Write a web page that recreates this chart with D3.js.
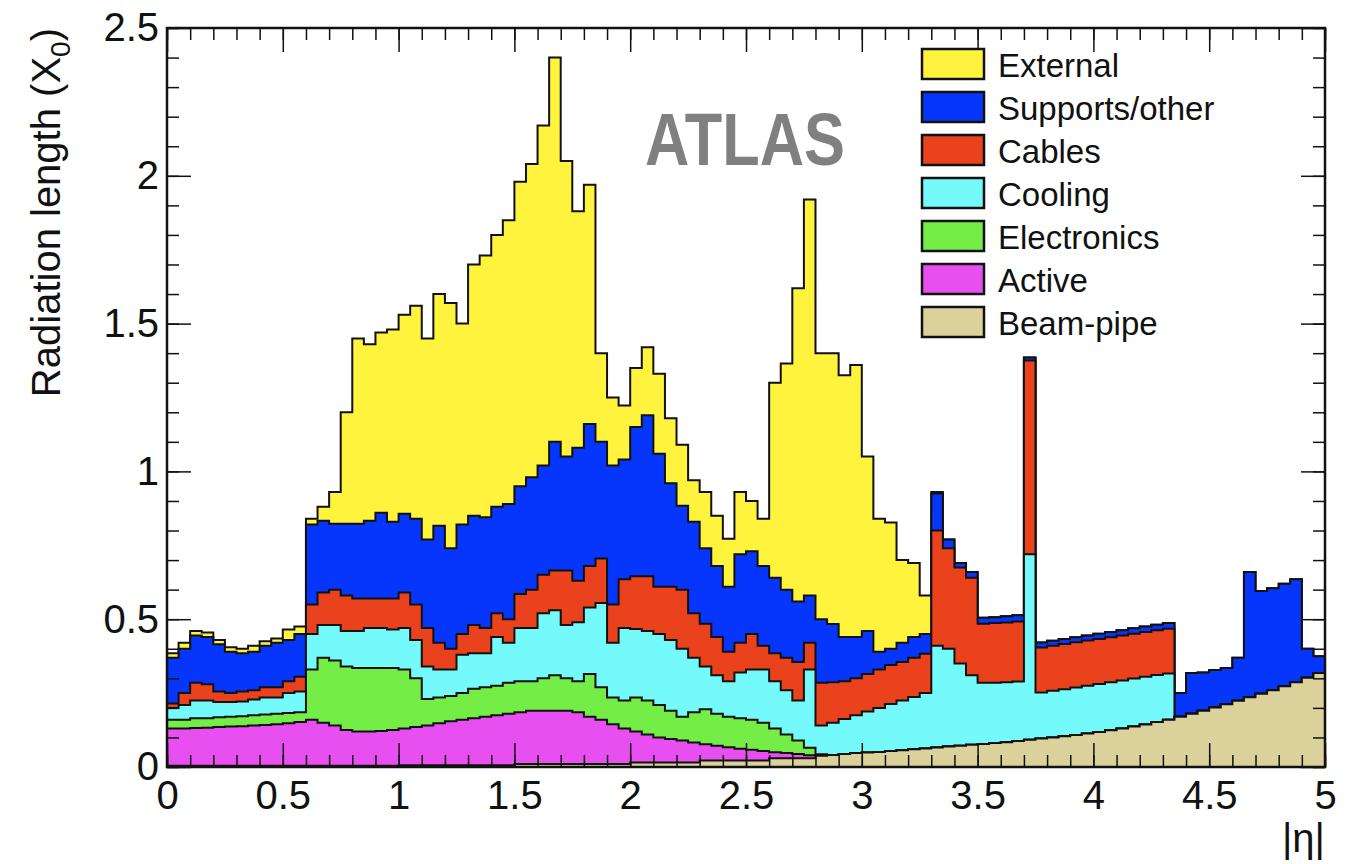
<!DOCTYPE html>
<html>
<head>
<meta charset="utf-8">
<script src="https://cdn.jsdelivr.net/npm/d3@7/dist/d3.min.js"></script>
<style>
    body { margin: 0; background: #fff; }
    text { font-family: "Liberation Sans", Arial, sans-serif; }
</style>
</head>
<body>
<div id="chart"></div>
<script>
// |eta| bins, 0.05 wide, from 0 to 5
const binWidth = 0.05
const etaLow = d3.range(100).map(i => +(i * binWidth).toFixed(2))

const layerNames = ['Beam-pipe', 'Active', 'Electronics', 'Cooling', 'Cables', 'Supports/other', 'External']
const layerColors = ['#dbd29b', '#e84ff0', '#74ee46', '#74fafa', '#e9421d', '#0636fb', '#fff33e']

// radiation length of each layer per bin (X0)
const beamPipe = [
    .004, .004, .004, .004, .004, .004, .004, .004, .004, .004,
    .004, .004, .004, .004, .004, .004, .004, .004, .004, .004,
    .006, .006, .006, .006, .006, .006, .006, .006, .006, .006,
    .01, .01, .01, .01, .01, .01, .01, .01, .01, .01,
    .015, .015, .015, .015, .015, .015, .022, .022, .022, .022,
    .022, .022, .03, .03, .03, .03, .038, .041, .044, .047,
    .049, .051, .054, .057, .06, .063, .066, .069, .072, .075,
    .078, .081, .084, .088, .092, .096, .1, .104, .108, .113,
    .118, .124, .13, .137, .144, .152, .16, .17, .18, .19,
    .201, .212, .224, .236, .248, .26, .273, .287, .302, .318]

const active = [
    .126, .126, .128, .129, .131, .133, .134, .136, .138, .141,
    .144, .148, .156, .146, .136, .121, .116, .116, .118, .121,
    .124, .129, .134, .142, .149, .154, .159, .164, .169, .174,
    .175, .18, .18, .18, .18, .175, .16, .15, .135, .12,
    .105, .095, .085, .08, .075, .068, .055, .05, .045, .04,
    .036, .032, .02, .017, .014, .01, 0, 0, 0, 0,
    0, 0, 0, 0, 0, 0, 0, 0, 0, 0,
    0, 0, 0, 0, 0, 0, 0, 0, 0, 0,
    0, 0, 0, 0, 0, 0, 0, 0, 0, 0,
    0, 0, 0, 0, 0, 0, 0, 0, 0, 0]

const electronics = [
    .03, .03, .033, .032, .033, .033, .034, .035, .036, .035,
    .035, .033, .17, .22, .22, .215, .215, .215, .213, .21,
    .2, .165, .09, .087, .085, .09, .1, .1, .1, .105,
    .105, .1, .11, .12, .11, .105, .145, .11, .09, .095,
    .115, .115, .11, .095, .08, .102, .118, .108, .103, .103,
    .102, .096, .08, .063, .046, .025, .005, 0, 0, 0,
    0, 0, 0, 0, 0, 0, 0, 0, 0, 0,
    0, 0, 0, 0, 0, 0, 0, 0, 0, 0,
    0, 0, 0, 0, 0, 0, 0, 0, 0, 0,
    0, 0, 0, 0, 0, 0, 0, 0, 0, 0]

const cooling = [
    .04, .05, .06, .06, .052, .05, .05, .053, .057, .055,
    .067, .07, .12, .11, .12, .12, .125, .135, .135, .13,
    .14, .13, .11, .095, .09, .13, .12, .115, .165, .135,
    .18, .18, .22, .22, .18, .2, .225, .285, .185, .245,
    .232, .235, .24, .24, .23, .185, .145, .13, .12, .155,
    .17, .18, .16, .15, .135, .265, .097, .109, .118, .128,
    .139, .149, .159, .168, .177, .187, .344, .331, .278, .235,
    .207, .204, .203, .201, .628, .156, .158, .159, .161, .162,
    .163, .163, .163, .162, .161, .159, .156, 0, 0, 0,
    0, 0, 0, 0, 0, 0, 0, 0, 0, 0]

const cables = [
    .015, .04, .06, .055, .035, .03, .033, .032, .035, .035,
    .04, .05, .1, .11, .12, .12, .11, .1, .1, .105,
    .12, .12, .13, .09, .07, .07, .095, .085, .08, .08,
    .115, .13, .13, .135, .185, .14, .14, .15, .13, .165,
    .178, .185, .16, .18, .2, .15, .145, .13, .1, .1,
    .12, .08, .095, .11, .13, .09, .145, .137, .128, .125,
    .127, .13, .132, .13, .133, .133, .39, .34, .325, .33,
    .2, .202, .202, .203, .655, .152, .152, .153, .153, .153,
    .152, .152, .152, .152, .152, .152, .152, 0, 0, 0,
    0, 0, 0, 0, 0, 0, 0, 0, 0, 0]

const supports = [
    .155, .15, .16, .16, .16, .14, .13, .13, .14, .15,
    .14, .145, .27, .243, .223, .243, .253, .263, .29, .26,
    .267, .29, .3, .396, .34, .37, .37, .375, .36, .39,
    .365, .38, .37, .435, .385, .45, .48, .395, .47, .405,
    .505, .545, .45, .35, .284, .31, .255, .24, .22, .3,
    .28, .27, .255, .23, .205, .16, .215, .197, .15, .14,
    .145, .06, .055, .065, .07, .067, .125, .03, .015, .02,
    .02, .02, .021, .021, .01, .017, .017, .017, .017, .017,
    .018, .018, .018, .018, .018, .018, .019, .08, .138, .13,
    .127, .123, .146, .424, .347, .345, .347, .348, .098, .057]

const external = [
    .015, .02, .015, .015, .015, .015, .015, .02, .015, .015,
    .035, .025, .02, .047, .107, .377, .627, .597, .61, .65,
    .673, .72, .68, .784, .83, .68, .85, .885, .92, .96,
    1.03, 1.06, 1.15, 1.3, 1.0, .8, .81, .3, .23, .183,
    .2, .23, .27, .22, .206, .14, .19, .17, .162, .21,
    .17, .16, .66, .765, 1.06, 1.34, .9, .916, .885, .92,
    .59, .45, .427, .28, .25, .13, .005, 0, 0, 0,
    0, 0, 0, 0, 0, 0, 0, 0, 0, 0,
    0, 0, 0, 0, 0, 0, 0, 0, 0, 0,
    0, 0, 0, 0, 0, 0, 0, 0, 0, 0]

const layerValues = [beamPipe, active, electronics, cooling, cables, supports, external]

const xTicks = [0, 0.5, 1, 1.5, 2, 2.5, 3, 3.5, 4, 4.5, 5]
const yTicks = [0, 0.5, 1, 1.5, 2, 2.5]

const width = 1358
const height = 864
const margin = ({ top: 28, right: 33, bottom: 97, left: 167 })

const table = etaLow.map((eta, i) => {
    const row = { eta: eta }
    layerNames.forEach((name, k) => row[name] = layerValues[k][i])
    return row
})

const series = d3.stack().keys(layerNames)(table)

const x = d3.scaleLinear()
    .domain([0, 5])
    .range([margin.left, width - margin.right])

const y = d3.scaleLinear()
    .domain([0, 2.5])
    .range([height - margin.bottom, margin.top])

const color = d3.scaleOrdinal(layerNames, layerColors)

const svg = d3.select('#chart')
    .append('svg')
    .attr('width', width)
    .attr('height', height)

// ROOT style stack: each layer filled from 0 up to its cumulative top, biggest first
const area = d3.area()
    .curve(d3.curveStepAfter)
    .x(d => x(d.eta))
    .y0(y(0))
    .y1(d => y(d.top))

svg.append('g')
    .selectAll('path')
    .data(series.slice().reverse())
    .join('path')
    .attr('fill', s => color(s.key))
    .attr('stroke', '#111')
    .attr('stroke-width', 2)
    .attr('stroke-linejoin', 'miter')
    .attr('d', s => {
        const pts = s.map((d, i) => ({ eta: etaLow[i], top: d[1] }))
        pts.push({ eta: etaLow[etaLow.length - 1] + binWidth, top: s[s.length - 1][1] })
        return area(pts)
    })

const fmt = d => String(+d.toFixed(1))

// axes, ticks pointing inwards on all four sides
svg.append('g')
    .attr('transform', `translate(${margin.left},0)`)
    .call(d3.axisLeft(y).tickValues(y.ticks(25)).tickSize(-12).tickFormat(''))
    .call(g => g.select('.domain').remove())
svg.append('g')
    .attr('transform', `translate(${margin.left},0)`)
    .call(d3.axisLeft(y).tickValues(yTicks).tickSize(-24).tickPadding(8).tickFormat(fmt))
    .call(g => g.select('.domain').remove())
    .call(g => g.selectAll('text').attr('font-size', 40).attr('fill', '#111')
        .attr('font-family', '"Liberation Sans", Arial, sans-serif'))

svg.append('g')
    .attr('transform', `translate(${width - margin.right},0)`)
    .call(d3.axisRight(y).tickValues(y.ticks(25)).tickSize(-12).tickFormat(''))
    .call(g => g.select('.domain').remove())
svg.append('g')
    .attr('transform', `translate(${width - margin.right},0)`)
    .call(d3.axisRight(y).tickValues(yTicks).tickSize(-24).tickFormat(''))
    .call(g => g.select('.domain').remove())

svg.append('g')
    .attr('transform', `translate(0,${height - margin.bottom})`)
    .call(d3.axisBottom(x).tickValues(x.ticks(50)).tickSize(-12).tickFormat(''))
    .call(g => g.select('.domain').remove())
svg.append('g')
    .attr('transform', `translate(0,${height - margin.bottom})`)
    .call(d3.axisBottom(x).tickValues(xTicks).tickSize(-24).tickPadding(14).tickFormat(fmt))
    .call(g => g.select('.domain').remove())
    .call(g => g.selectAll('text').attr('font-size', 40).attr('fill', '#111')
        .attr('font-family', '"Liberation Sans", Arial, sans-serif'))

svg.append('g')
    .attr('transform', `translate(0,${margin.top})`)
    .call(d3.axisTop(x).tickValues(x.ticks(50)).tickSize(-12).tickFormat(''))
    .call(g => g.select('.domain').remove())
svg.append('g')
    .attr('transform', `translate(0,${margin.top})`)
    .call(d3.axisTop(x).tickValues(xTicks).tickSize(-24).tickFormat(''))
    .call(g => g.select('.domain').remove())

svg.selectAll('.tick line').attr('stroke', '#111').attr('stroke-width', 1.5)

// frame
svg.append('rect')
    .attr('x', margin.left)
    .attr('y', margin.top)
    .attr('width', width - margin.left - margin.right)
    .attr('height', height - margin.top - margin.bottom)
    .attr('fill', 'none')
    .attr('stroke', '#111')
    .attr('stroke-width', 2.5)

// axis titles
const yTitle = svg.append('text')
    .attr('transform', `translate(60,${margin.top}) rotate(-90)`)
    .attr('text-anchor', 'end')
    .attr('font-size', 40)
    .attr('fill', '#111')
yTitle.append('tspan').text('Radiation length (X')
yTitle.append('tspan').attr('font-size', 28).attr('dy', 10).text('0')
yTitle.append('tspan').attr('dy', -10).text(')')

svg.append('text')
    .attr('x', width - margin.right)
    .attr('y', 852)
    .attr('text-anchor', 'end')
    .attr('font-size', 40)
    .attr('fill', '#111')
    .text('|η|')

// ATLAS label
svg.append('text')
    .attr('x', 645)
    .attr('y', 165)
    .attr('font-size', 74)
    .attr('font-weight', 'bold')
    .attr('font-family', '"Liberation Sans Narrow", "DejaVu Sans Condensed", sans-serif')
    .attr('textLength', 200)
    .attr('lengthAdjust', 'spacingAndGlyphs')
    .attr('fill', '#808080')
    .text('ATLAS')

// legend, top to bottom
legend = ({ g, x0 = 922, y0 = 49, boxW = 62, boxH = 30, step = 43, fontSize = 33 }) => {
    const item = g.selectAll('g')
        .data(layerNames.slice().reverse())
        .join('g')

    item.append('rect')
        .attr('x', x0)
        .attr('y', (d, i) => y0 + i * step)
        .attr('width', boxW)
        .attr('height', boxH)
        .attr('fill', d => color(d))
        .attr('stroke', '#111')
        .attr('stroke-width', 2.5)

    item.append('text')
        .attr('x', x0 + boxW + 14)
        .attr('y', (d, i) => y0 + i * step + boxH - 2)
        .attr('font-size', fontSize)
        .attr('fill', '#111')
        .text(d => d)
}

svg.append('g').call(g => legend({ g: g }))
</script>
</body>
</html>
